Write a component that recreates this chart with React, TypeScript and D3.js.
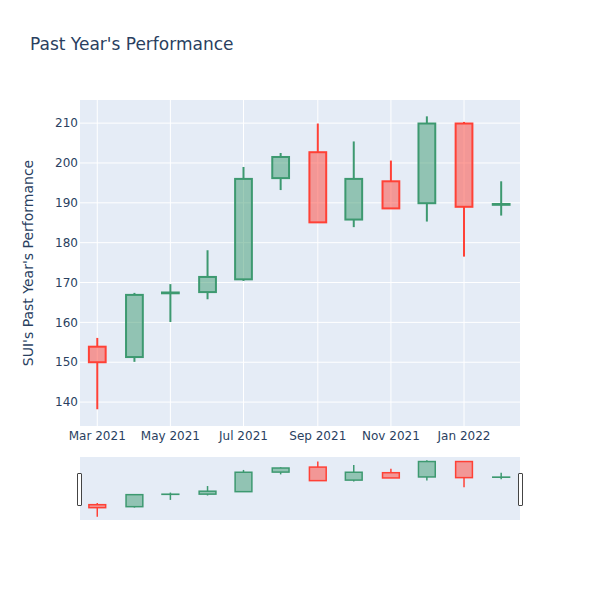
import * as d3 from "d3"

// monthly candles, first of each month
const months = [
    "2021-03-01", "2021-04-01", "2021-05-01", "2021-06-01", "2021-07-01", "2021-08-01",
    "2021-09-01", "2021-10-01", "2021-11-01", "2021-12-01", "2022-01-01", "2022-02-01",
]
const opens = [153.9, 151.3, 167.3, 167.6, 170.8, 196.2, 202.7, 185.8, 195.4, 189.9, 209.9, 189.5]
const highs = [156.1, 167.4, 169.6, 178.1, 199.0, 202.5, 209.9, 205.4, 200.6, 211.7, 210.3, 195.4]
const lows = [138.2, 150.1, 160.1, 165.8, 170.4, 193.2, 185.0, 183.9, 188.6, 185.3, 176.5, 186.8]
const closes = [150.0, 166.9, 167.5, 171.4, 196.0, 201.5, 185.1, 196.0, 188.6, 209.9, 189.0, 189.7]
const yTicks = [140, 150, 160, 170, 180, 190, 200, 210]
const xTicks = ["2021-03-01", "2021-05-01", "2021-07-01", "2021-09-01", "2021-11-01", "2022-01-01"]

const parse = d3.utcParse("%Y-%m-%d")
const fmt = d3.utcFormat("%b %Y")
const font = "'DejaVu Sans', verdana, arial, sans-serif"
const inc = "#3D9970"
const dec = "#FF4136"

type Candle = { date: Date; open: number; high: number; low: number; close: number }

const candles: Candle[] = months.map((m, i) => ({
    date: parse(m) as Date,
    open: opens[i],
    high: highs[i],
    low: lows[i],
    close: closes[i],
}))

function Candles({ x, y, w, lw }: { x: d3.ScaleTime<number, number>; y: d3.ScaleLinear<number, number>; w: number; lw: number }) {
    return (
        <g>
            {candles.map((d, i) => {
                const up = d.close >= d.open
                const c = up ? inc : dec
                const cx = x(d.date)
                const top = y(Math.max(d.open, d.close))
                const bot = y(Math.min(d.open, d.close))
                return (
                    <g key={i}>
                        <line x1={cx} x2={cx} y1={y(d.high)} y2={top} stroke={c} strokeWidth={lw} />
                        <line x1={cx} x2={cx} y1={bot} y2={y(d.low)} stroke={c} strokeWidth={lw} />
                        <rect x={cx - w / 2} y={top} width={w} height={Math.max(bot - top, 0)}
                            fill={c} fillOpacity={0.5} stroke={c} strokeWidth={lw} />
                    </g>
                )
            })}
        </g>
    )
}

export default function App() {
    const width = 600
    const height = 600
    const left = 80, right = 520, top = 100, bottom = 426
    const slTop = 457, slBottom = 520

    const x = d3.scaleTime()
        .domain([new Date(Date.UTC(2021, 1, 14, 14)), new Date(Date.UTC(2022, 1, 16, 17))])
        .range([left, right])
    const y = d3.scaleLinear().domain([134, 215.8]).range([bottom, top])
    const ySl = d3.scaleLinear().domain([134, 215.8]).range([slBottom, slTop])

    const dayPx = x(new Date(Date.UTC(2021, 2, 2))) - x(new Date(Date.UTC(2021, 2, 1)))
    const bodyW = 14 * dayPx

    return (
        <svg width={width} height={height} style={{ display: "block", position: "absolute", left: 0, top: 0 }}>
            <rect width={width} height={height} fill="#fff" />
            <text x={30} y={49.5} fontFamily={font} fontSize={17} fill="#2a3f5f">Past Year's Performance</text>

            <rect x={left} y={top} width={right - left} height={bottom - top} fill="#E5ECF6" />
            {yTicks.map(t => (
                <line key={t} x1={left} x2={right} y1={y(t)} y2={y(t)} stroke="#fff" strokeWidth={1} />
            ))}
            {xTicks.map(t => {
                const px = x(parse(t) as Date)
                return <line key={t} x1={px} x2={px} y1={top} y2={bottom} stroke="#fff" strokeWidth={1} />
            })}

            <Candles x={x} y={y} w={bodyW} lw={2} />

            {yTicks.map(t => (
                <text key={t} x={78} y={y(t)} dy="0.35em" textAnchor="end" fontFamily={font} fontSize={12} fill="#2a3f5f">{t}</text>
            ))}
            {xTicks.map(t => (
                <text key={t} x={x(parse(t) as Date)} y={440} textAnchor="middle" fontFamily={font} fontSize={12} fill="#2a3f5f">
                    {fmt(parse(t) as Date)}
                </text>
            ))}
            <text transform={`translate(33,${(top + bottom) / 2}) rotate(-90)`} textAnchor="middle"
                fontFamily={font} fontSize={14} fill="#2a3f5f">SUI's Past Year's Performance</text>

            {/* range slider */}
            <rect x={left} y={slTop} width={right - left} height={slBottom - slTop} fill="#E5ECF6" />
            <Candles x={x} y={ySl} w={bodyW} lw={1.5} />
            <rect x={77.5} y={473.5} width={4} height={32} fill="#fff" stroke="#444" strokeWidth={1} rx={0.5} />
            <rect x={518.5} y={473.5} width={4} height={32} fill="#fff" stroke="#444" strokeWidth={1} rx={0.5} />
        </svg>
    )
}
